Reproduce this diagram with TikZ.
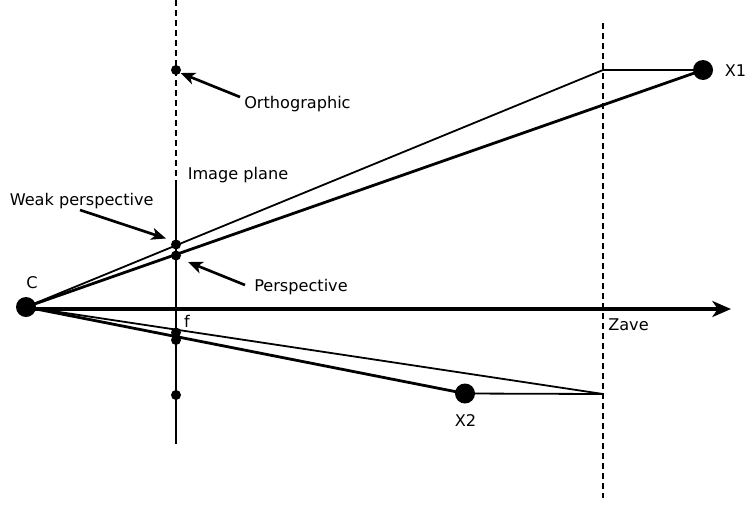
\documentclass[tikz,border=0pt]{standalone}
\usepackage{fontspec}
\setmainfont{DejaVu Sans}
\usetikzlibrary{arrows.meta}
\begin{document}
\begin{tikzpicture}[x=0.75pt,y=-0.75pt,
  thinline/.style={line width=1.35pt},
  thickline/.style={line width=2.1pt},
  dashline/.style={line width=1.5pt,dash pattern=on 4.5pt off 3pt},
  smalldot/.style={circle,fill=black,inner sep=0pt,minimum size=7.5pt},
  bigdot/.style={circle,fill=black,inner sep=0pt,minimum size=15pt},
  lbl/.style={inner sep=0pt,font=\fontsize{12.1}{14}\selectfont},
  pointer/.style={line width=2pt,-{Stealth[length=11pt,width=9pt,inset=3pt]}},
  axisarrow/.style={line width=2.3pt,-{Stealth[length=14pt,width=12pt,inset=4pt]}}]
\useasboundingbox (0,0) rectangle (745,504);
% coordinates
\coordinate (ipTop) at (176,0);
\coordinate (ipMid) at (176,182);
\coordinate (ipBot) at (176,444);
\coordinate (zTop) at (603,23);
\coordinate (zBot) at (603,498);
\coordinate (z1) at (603,70);
\coordinate (z2) at (603,394);
\coordinate (axEnd) at (731,309);
\coordinate (axStart) at (26,309);
% image plane and Zave line
\draw[dashline] (ipTop) -- (ipMid);
\draw[thickline] (ipMid) -- (ipBot);
\draw[dashline] (zTop) -- (zBot);
% points
\node[bigdot] (C) at (26,307) {};
\node[bigdot] (X1) at (703,70) {};
\node[bigdot] (X2) at (465,393.5) {};
% axis
\draw[axisarrow] (axStart) -- (axEnd);
% rays
\draw[thinline] (C.center) -- (z1) -- (X1.center);
\draw[thickline] (C.center) -- (X1.center);
\draw[thinline] (C.center) -- (z2) -- (X2.center);
\draw[thickline] (C.center) -- (X2.center);
% image plane dots
\node[smalldot] (dO) at (176,70) {};
\node[smalldot] (dW) at (176,244.5) {};
\node[smalldot] (dP) at (176,255.5) {};
\node[smalldot] (dF) at (176,332.5) {};
\node[smalldot] (dF2) at (176,340) {};
\node[smalldot] (dL) at (176,395) {};
% labels
\node[lbl,anchor=west] (tO) at (244,104) {Orthographic};
\node[lbl,anchor=west] (tI) at (187.5,175) {Image plane};
\node[lbl,anchor=west] (tW) at (9.5,201.5) {Weak perspective};
\node[lbl,anchor=west] (tP) at (254,287) {Perspective};
\node[lbl] (tC) at (32,283) {C};
\node[lbl] (tF) at (187,321) {f};
\node[lbl,anchor=west] (tZ) at (608,324.5) {Zave};
\node[lbl,anchor=west] (tX1) at (724.5,70.5) {X1};
\node[lbl] (tX2) at (465.5,420.5) {X2};
% pointers
\coordinate (aO) at (240,97);
\coordinate (aW) at (80,210);
\coordinate (aP) at (245,285);
\draw[pointer] (aO) -- (180.5,73);
\draw[pointer] (aW) -- (166,238.5);
\draw[pointer] (aP) -- (188,262);
\end{tikzpicture}
\end{document}
